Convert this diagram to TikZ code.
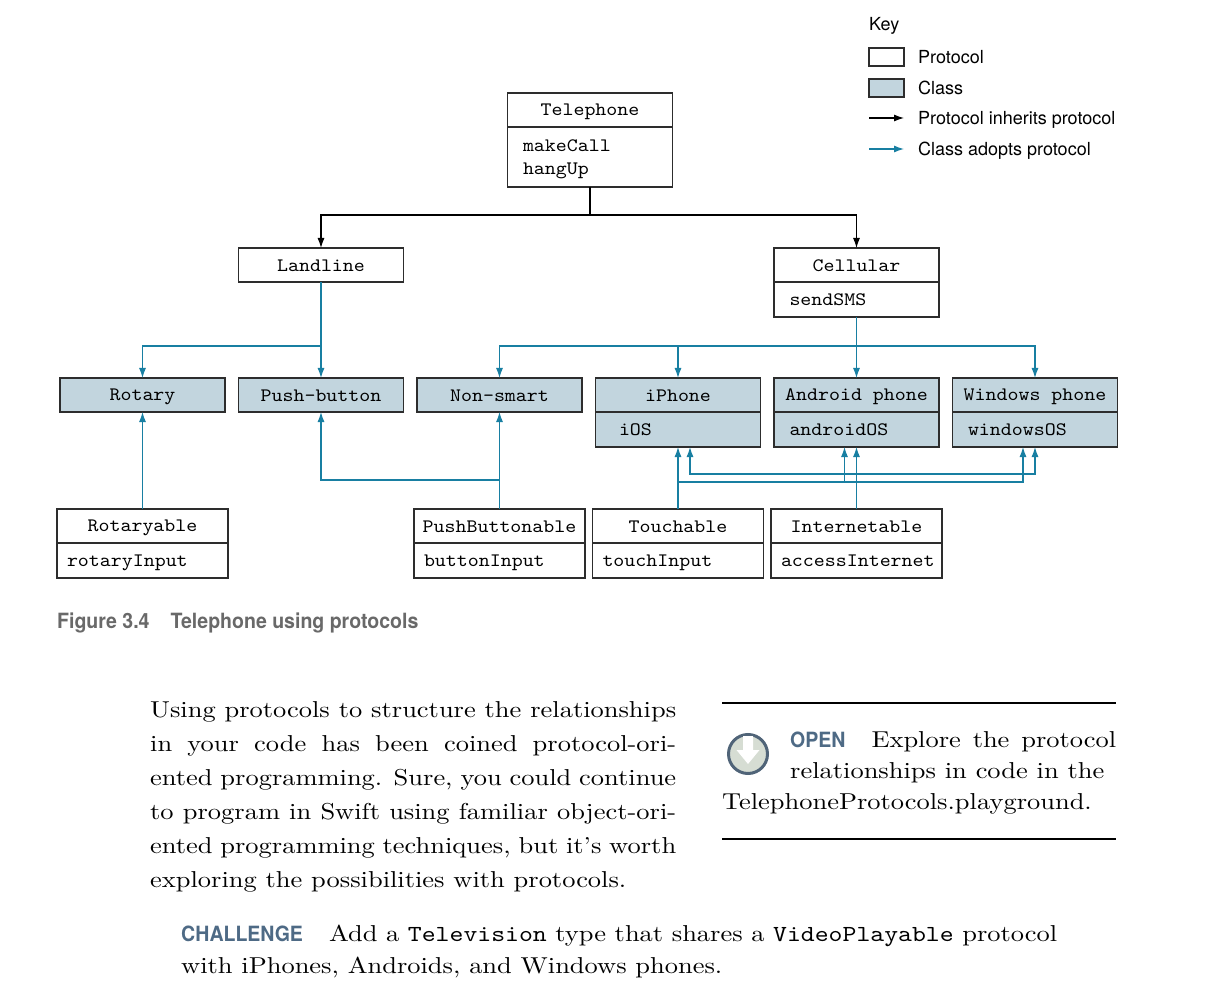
\documentclass[tikz,border=0pt]{standalone}
\usepackage{fontspec}
\usepackage{tikz}
\usetikzlibrary{arrows.meta,positioning}
\newfontfamily\diagfont{lmmono10-regular}[Extension=.otf,FakeStretch=1.1]
\newfontfamily\codefont{lmmono10-regular}[Extension=.otf,FakeStretch=1.15]
\newfontfamily\bodyfont{lmroman10-regular}[Extension=.otf,FakeStretch=1.15]
\newfontfamily\keyfont{TeX Gyre Heros}
\newfontfamily\capfont{TeX Gyre Heros}[FakeStretch=0.93]
\definecolor{classfill}{RGB}{194,213,222}
\definecolor{adoptblue}{RGB}{24,127,162}
\definecolor{boxline}{RGB}{45,45,45}
\definecolor{slate}{RGB}{78,106,133}
\definecolor{capgray}{RGB}{105,105,105}
\definecolor{iconfill}{RGB}{214,221,211}
\definecolor{iconline}{RGB}{80,100,120}
\newcommand\tagfont{\capfont\bfseries\fontsize{21}{32}\selectfont\color{slate}}
\newcommand\boxstrut{\rule[-3.4pt]{0pt}{19.5pt}}
\tolerance=9999
\hbadness=10000

\begin{document}
\begin{tikzpicture}[x=1pt,y=-1pt,>={Latex[length=10pt,width=7pt]},
	proto/.style={draw=boxline,line width=1.2pt,fill=white,outer sep=0pt,inner sep=0pt,minimum width=165pt,minimum height=34pt,font=\diagfont\fontsize{19}{23}\selectfont,execute at begin node=\boxstrut},
	cls/.style={proto,fill=classfill},
	members/.style={minimum height=35pt,text width=134pt,inner xsep=15.5pt,align=left,execute at end node=\boxstrut},
	wide/.style={minimum width=171pt},
	widemembers/.style={members,wide,text width=151pt,inner xsep=10pt},
	inh/.style={->,line width=1.1pt,black},
	adopt/.style={->,line width=1.2pt,adoptblue},
	keybox/.style={draw=boxline,line width=1.2pt,fill=white,outer sep=0pt,inner sep=0pt,minimum width=35pt,minimum height=18pt},
	keytext/.style={anchor=west,inner sep=0pt,text height=13pt,text depth=0pt,font=\keyfont\fontsize{18}{21}\selectfont},
	bodytext/.style={anchor=base west,inner sep=0pt,align=justify,font=\bodyfont\fontsize{23}{34}\selectfont}]
	\useasboundingbox (0,0) rectangle (1216,1000);

	% classes
	\node[cls] (rotary) at (142.5,395) {Rotary};
	\node[cls,right=13.5pt of rotary] (pushbutton) {Push-button};
	\node[cls,right=13.5pt of pushbutton] (nonsmart) {Non-smart};
	\node[cls,right=13.5pt of nonsmart] (iphone) {iPhone};
	\node[cls,right=13.5pt of iphone] (android) {Android phone};
	\node[cls,right=13.5pt of android] (windows) {Windows phone};
	\node[cls,members,below=0pt of iphone] (iphone_m) {\hspace*{8pt}iOS};
	\node[cls,members,below=0pt of android] (android_m) {androidOS};
	\node[cls,members,below=0pt of windows] (windows_m) {windowsOS};

	% protocols
	\node[proto] (telephone) at (590,110) {Telephone};
	\node[proto,members,minimum height=60pt,below=0pt of telephone] (telephone_m) {makeCall\\hangUp};
	\node[proto] (landline) at (pushbutton |- 0,265) {Landline};
	\node[proto] (cellular) at (android |- 0,265) {Cellular};
	\node[proto,members,below=0pt of cellular] (cellular_m) {sendSMS};
	\node[proto,wide] (rotaryable) at (rotary |- 0,526) {Rotaryable};
	\node[proto,widemembers,below=0pt of rotaryable] (rotaryable_m) {rotaryInput};
	\node[proto,wide] (pushbuttonable) at (nonsmart |- 0,526) {PushButtonable};
	\node[proto,widemembers,below=0pt of pushbuttonable] (pushbuttonable_m) {buttonInput};
	\node[proto,wide] (touchable) at (iphone |- 0,526) {Touchable};
	\node[proto,widemembers,below=0pt of touchable] (touchable_m) {touchInput};
	\node[proto,wide] (internetable) at (android |- 0,526) {Internetable};
	\node[proto,widemembers,below=0pt of internetable] (internetable_m) {accessInternet};

	% protocol inherits protocol
	\coordinate (tel_j) at ([yshift=-28pt]telephone_m.south);
	\draw[inh] (telephone_m.south) -- (tel_j) -| (landline.north);
	\draw[inh] (tel_j) -| (cellular.north);

	% class adopts protocol
	\coordinate (land_j) at ([yshift=-64pt]landline.south);
	\draw[adopt] (landline.south) -- (land_j) -| (rotary.north);
	\draw[adopt] (land_j) -- (pushbutton.north);
	\coordinate (cell_j) at ([yshift=-29pt]cellular_m.south);
	\draw[adopt] (cellular_m.south) -- (cell_j) -| (nonsmart.north);
	\draw[adopt] (cell_j) -| (iphone.north);
	\draw[adopt] (cell_j) -- (android.north);
	\draw[adopt] (cell_j) -| (windows.north);
	\draw[adopt] (rotaryable.north) -- (rotary.south);
	\coordinate (push_j) at ([yshift=29pt]pushbuttonable.north);
	\draw[adopt] (pushbuttonable.north) -- (nonsmart.south);
	\draw[adopt] (push_j) -| (pushbutton.south);
	\coordinate (touch_j) at ([yshift=27pt]touchable.north);
	\draw[adopt] (touchable.north) -- (iphone_m.south);
	\draw[adopt] (touch_j) -| ([xshift=-12pt]android_m.south);
	\draw[adopt] (touch_j) -| ([xshift=-12pt]windows_m.south);
	\coordinate (inet_j) at ([yshift=35pt]internetable.north);
	\draw[adopt] (internetable.north) -- (android_m.south);
	\draw[adopt] (inet_j) -| ([xshift=12pt]iphone_m.south);
	\draw[adopt] (inet_j) -| (windows_m.south);

	% key
	\node[keytext] (key) at (869,24) {Key};
	\node[keybox] (key_proto) at (886.5,57) {};
	\node[keybox,fill=classfill] (key_cls) at (886.5,88) {};
	\node[keytext,right=14pt of key_proto] (key_proto_l) {Protocol};
	\node[keytext,right=14pt of key_cls] (key_cls_l) {Class};
	\coordinate (key_inh) at (869,118);
	\node[keytext,right=49pt of key_inh] (key_inh_l) {Protocol inherits protocol};
	\coordinate (key_adopt) at (869,149);
	\node[keytext,right=49pt of key_adopt] (key_adopt_l) {Class adopts protocol};
	\draw[inh] (key_inh) -- ([xshift=-14pt]key_inh_l.west);
	\draw[adopt] (key_adopt) -- ([xshift=-14pt]key_adopt_l.west);

	% caption and page text
	\node[anchor=base west,inner sep=0pt,text=capgray,font=\capfont\bfseries\fontsize{21}{24}\selectfont] (caption) at (57,628) {Figure 3.4\hspace{21pt}Telephone using protocols};
	\node[bodytext,text width=526pt] (para) at (150,717) {Using protocols to structure the relationships\linebreak in your code has been coined protocol-ori-\linebreak ented programming. Sure, you could continue\linebreak to program in Swift using familiar object-ori-\linebreak ented programming techniques, but it’s worth\linebreak exploring the possibilities with protocols.};
	\draw[line width=1.2pt] (722,703) -- (1116,703);
	\draw[line width=1.2pt] (722,839) -- (1116,839);
	\fill[iconfill] (748,754) circle (20pt);
	\draw[iconline,line width=3pt] (748,754) circle (19.5pt);
	\fill[white] (743,736) -- (753,736) -- (753,750) -- (759.5,750) -- (748,764) -- (736.5,750) -- (743,750) -- cycle;
	\node[bodytext,text width=326pt,font=\bodyfont\fontsize{23}{31}\selectfont] (open) at (790,747) {\parfillskip=0pt{\tagfont OPEN}\hspace{26pt}Explore the protocol\linebreak relationships in code in the};
	\node[bodytext] (open_l) at (722,809) {TelephoneProtocols.playground.};
	\node[bodytext,text width=876pt,font=\bodyfont\fontsize{23}{32}\selectfont] (challenge) at (181,941) {{\tagfont CHALLENGE}\hspace{26pt}Add a {\codefont Television} type that shares a {\codefont VideoPlayable} protocol\linebreak with iPhones, Androids, and Windows phones.};
\end{tikzpicture}
\end{document}
